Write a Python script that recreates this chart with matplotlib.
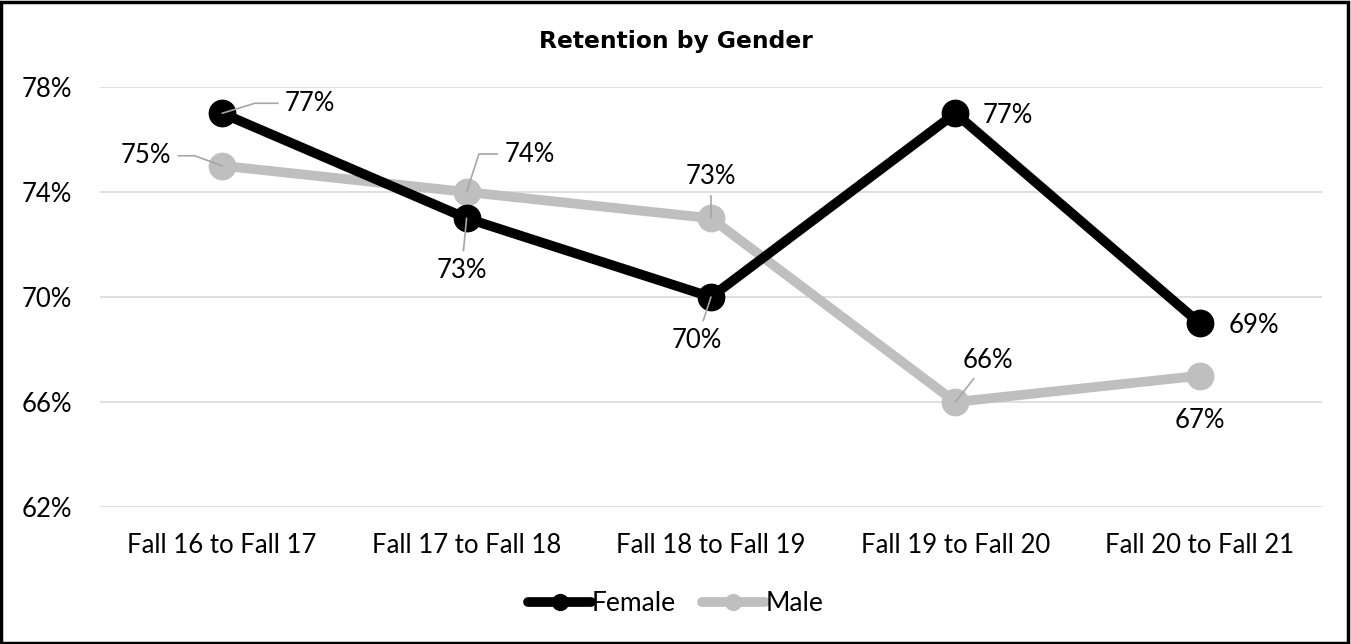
import matplotlib
matplotlib.use("Agg")
import matplotlib.pyplot as plt
from matplotlib.patches import Rectangle

plt.rcParams['font.family'] = ['Lato', 'DejaVu Sans']

# data
periods = ["Fall 16 to Fall 17", "Fall 17 to Fall 18", "Fall 18 to Fall 19",
           "Fall 19 to Fall 20", "Fall 20 to Fall 21"]
female = [77, 73, 70, 77, 69]
male = [75, 74, 73, 66, 67]
yticks = [62, 66, 70, 74, 78]

# label placement (offset in pixels from the point, leader connection or None)
female_lbl = [((88, 10), "angle,angleA=0,angleB=17"), ((-5, -52), "arc3"),
              ((-14, -43), "arc3"), ((52, -2), None), ((54, -2), None)]
male_lbl = [((-76, 10), "angle,angleA=0,angleB=160"), ((63, 38), "angle,angleA=0,angleB=72"),
            ((0, 42), "arc3"), ((33, 42), "arc3"), ((0, -45), None)]

fig = plt.figure(figsize=(13.51, 6.44), dpi=100)
ax = fig.add_axes([0.074, 0.2127, 0.9045, 0.6522])

x = list(range(len(periods)))
ax.plot(x, female, color='black', lw=7, marker='o', ms=19, label='Female',
        solid_capstyle='round', zorder=3)
ax.plot(x, male, color='#BFBFBF', lw=7, marker='o', ms=19, label='Male',
        solid_capstyle='round', zorder=2)

def put_labels(vals, specs):
    for i, (v, (off, conn)) in enumerate(zip(vals, specs)):
        kw = {}
        if conn is not None:
            kw['arrowprops'] = dict(arrowstyle='-', color='#A6A6A6', lw=1.2,
                                    shrinkA=3, shrinkB=0, connectionstyle=conn)
        ax.annotate(f"{v}%", xy=(i, v), xytext=off, textcoords='offset pixels',
                    ha='center', va='center', fontsize=18.5, color='black',
                    zorder=5, **kw)

put_labels(female, female_lbl)
put_labels(male, male_lbl)

ax.set_xlim(-0.5, 4.5)
ax.set_ylim(62, 78)
ax.set_yticks(yticks)
ax.set_yticklabels([f"{t}%" for t in yticks])
ax.set_xticks(x)
ax.set_xticklabels(periods)
ax.tick_params(length=0, labelsize=18.5)
ax.tick_params(axis='x', pad=19)
ax.tick_params(axis='y', pad=20)
ax.grid(axis='y', color='#D9D9D9', lw=1.2, zorder=0)
ax.set_axisbelow(True)
for s in ax.spines.values():
    s.set_visible(False)

fig.text(0.5, 0.935, "Retention by Gender", ha='center', va='center',
         fontsize=16.8, fontweight='bold', family='DejaVu Sans')

leg = fig.legend(loc='center', bbox_to_anchor=(0.5, 0.063), ncol=2, frameon=False,
                 fontsize=19, handlelength=2.4, handletextpad=0.0, columnspacing=1.0,
                 markerscale=0.6)
for h in leg.get_lines():
    h.set_solid_capstyle('round')

fig.patches.append(Rectangle((0.001, 0.002), 0.997, 0.995, transform=fig.transFigure,
                             fill=False, edgecolor='black', lw=2.5))

fig.savefig("out.png", dpi=100)
